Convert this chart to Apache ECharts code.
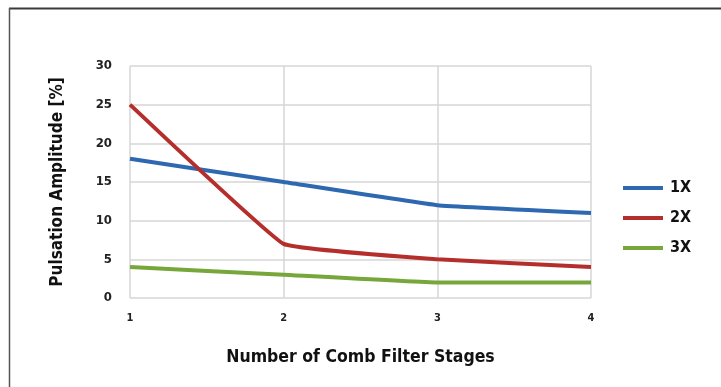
<!DOCTYPE html>
<html><head><meta charset="utf-8">
<script src="https://cdn.jsdelivr.net/npm/echarts@6/dist/echarts.min.js"></script>
<style>html,body{margin:0;padding:0;background:#fff}#c{width:721px;height:387px}</style>
</head><body><div id="c"></div>
<script>
const stages = [1, 2, 3, 4];
const s1X = [18, 15, 12, 11];
const s2X = [25, 7, 5, 4];
const s3X = [4, 3, 2, 2];
const seriesNames = ['1X', '2X', '3X'];
const colors = ['#2d68b0', '#b42f2c', '#77a73a'];
const FONT = "'DejaVu Sans Condensed','Liberation Sans Narrow',sans-serif";

const pair = (xs, ys) => xs.map((x, i) => [x, ys[i]]);
const chart = echarts.init(document.getElementById('c'), null, {renderer: 'canvas'});
chart.setOption({
  backgroundColor: '#fff',
  animation: false,
  graphic: [
    {type: 'line', shape: {x1: 9, y1: 8.5, x2: 721, y2: 8.5}, style: {stroke: '#3a3a3a', lineWidth: 2}},
    {type: 'line', shape: {x1: 9.5, y1: 8, x2: 9.5, y2: 387}, style: {stroke: '#555', lineWidth: 1.5}}
  ],
  grid: {left: 130, right: 130, top: 66, bottom: 89, containLabel: false},
  xAxis: {
    type: 'value', min: 1, max: 4, interval: 1,
    name: 'Number of Comb Filter Stages', nameLocation: 'middle', nameGap: 50,
    nameTextStyle: {fontFamily: FONT, fontSize: 17.5, fontWeight: 'bold', color: '#111'},
    axisLine: {show: false}, axisTick: {show: false},
    axisLabel: {fontFamily: FONT, fontSize: 11, fontWeight: 'bold', color: '#222', margin: 15},
    splitLine: {show: true, lineStyle: {color: '#d6d6d6', width: 1.5}}
  },
  yAxis: {
    type: 'value', min: 0, max: 30, interval: 5,
    name: 'Pulsation Amplitude [%]', nameLocation: 'middle', nameGap: 64, nameRotate: 90,
    nameTextStyle: {fontFamily: FONT, fontSize: 17, fontWeight: 'bold', color: '#111'},
    axisLine: {show: false}, axisTick: {show: false},
    axisLabel: {fontFamily: FONT, fontSize: 13, fontWeight: 'bold', color: '#222', margin: 18},
    splitLine: {show: true, lineStyle: {color: '#d6d6d6', width: 1.5}}
  },
  legend: {
    orient: 'vertical', left: 623, top: 180, padding: 0,
    icon: 'rect', itemWidth: 40, itemHeight: 4, itemGap: 14,
    textStyle: {fontFamily: FONT, fontSize: 16, fontWeight: 'bold', color: '#111', padding: [0, 0, 0, 2]},
    data: seriesNames
  },
  series: [s1X, s2X, s3X].map((d, i) => ({
    name: seriesNames[i], type: 'line', data: pair(stages, d),
    showSymbol: false, smooth: 0.08, color: colors[i],
    lineStyle: {width: 4, color: colors[i]}
  }))
});
</script></body></html>
